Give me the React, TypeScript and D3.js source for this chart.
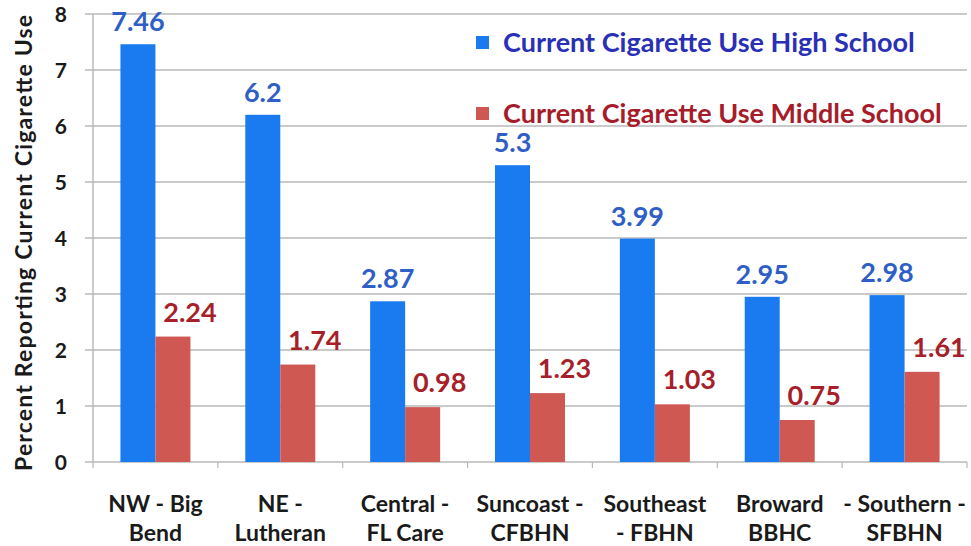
import React from "react";
import * as d3 from "d3";

const categories: string[][] = [
  ["NW - Big", "Bend"],
  ["NE -", "Lutheran"],
  ["Central -", "FL Care"],
  ["Suncoast -", "CFBHN"],
  ["Southeast", "- FBHN"],
  ["Broward", "BBHC"],
  ["- Southern -", "SFBHN"],
];
const highSchool: number[] = [7.46, 6.2, 2.87, 5.3, 3.99, 2.95, 2.98];
const middleSchool: number[] = [2.24, 1.74, 0.98, 1.23, 1.03, 0.75, 1.61];
const yTicks: number[] = [0, 1, 2, 3, 4, 5, 6, 7, 8];
const seriesNames: string[] = [
  "Current Cigarette Use High School",
  "Current Cigarette Use Middle School",
];
const yTitle = "Percent Reporting Current Cigarette Use";

const W = 971;
const H = 546;
const FONT = "Lato, 'Open Sans', sans-serif";
const BLUE = "#1a7bf1";
const RED = "#cf5852";
const BLUE_TEXT = "#2f5fc6";
const RED_TEXT = "#a61f2a";
const GRID = "#b8b8b8";

export default function App() {
  const plot = { left: 93, right: 967, top: 14, bottom: 462 };
  const x = d3
    .scaleBand<number>()
    .domain(d3.range(categories.length))
    .range([plot.left, plot.right]);
  const y = d3.scaleLinear().domain([0, 8]).range([plot.bottom, plot.top]);
  const barW = 35;
  const groupPad = (x.bandwidth() - 2 * barW) / 2;

  return (
    <svg
      width={W}
      height={H}
      style={{ position: "absolute", left: 0, top: 0, background: "#fff" }}
      fontFamily={FONT}
    >
      {/* horizontal gridlines with left tick stubs */}
      {yTicks.map((t) => (
        <line
          key={"g" + t}
          x1={plot.left - 8}
          x2={plot.right}
          y1={y(t)}
          y2={y(t)}
          stroke={GRID}
          strokeWidth={1.5}
        />
      ))}
      {/* y axis */}
      <line
        x1={plot.left}
        x2={plot.left}
        y1={plot.top}
        y2={plot.bottom}
        stroke={GRID}
        strokeWidth={1.5}
      />
      {/* category ticks */}
      {d3.range(categories.length + 1).map((i) => {
        const xx = plot.left + i * x.step();
        return (
          <line
            key={"xt" + i}
            x1={xx}
            x2={xx}
            y1={plot.bottom}
            y2={plot.bottom + 6}
            stroke={GRID}
            strokeWidth={1.2}
          />
        );
      })}
      {/* y tick labels */}
      {yTicks.map((t) => (
        <text
          key={"yl" + t}
          x={67}
          y={y(t)}
          dy="0.36em"
          textAnchor="end"
          fontSize={21}
          fontWeight="bold"
          fill="#1a1a1a"
        >
          {t}
        </text>
      ))}
      {/* y axis title */}
      <text
        transform={`translate(32,243) rotate(-90)`}
        textAnchor="middle"
        fontSize={23}
        fontWeight="bold"
        fill="#1a1a1a"
        textLength={456}
        lengthAdjust="spacing"
      >
        {yTitle}
      </text>

      {/* bars */}
      {highSchool.map((v, i) => {
        const bx = (x(i) as number) + groupPad;
        return (
          <g key={"b" + i}>
            <rect x={bx} y={y(v)} width={barW} height={y(0) - y(v)} fill={BLUE} />
            <text
              x={bx + barW / 2}
              y={y(v) - 13}
              textAnchor="middle"
              fontSize={27}
              fontWeight="bold"
              fill={BLUE_TEXT}
            >
              {v}
            </text>
          </g>
        );
      })}
      {middleSchool.map((v, i) => {
        const bx = (x(i) as number) + groupPad + barW;
        return (
          <g key={"r" + i}>
            <rect x={bx} y={y(v)} width={barW} height={y(0) - y(v)} fill={RED} />
            <text
              x={bx + barW / 2 + 17}
              y={y(v) - 15}
              textAnchor="middle"
              fontSize={27}
              fontWeight="bold"
              fill={RED_TEXT}
            >
              {v}
            </text>
          </g>
        );
      })}

      {/* category labels */}
      {categories.map((lines, i) => (
        <text
          key={"c" + i}
          x={(x(i) as number) + x.bandwidth() / 2}
          textAnchor="middle"
          fontSize={23}
          fontWeight="bold"
          fill="#1a1a1a"
        >
          {lines.map((l, j) => (
            <tspan key={j} x={(x(i) as number) + x.bandwidth() / 2} y={512 + j * 29}>
              {l}
            </tspan>
          ))}
        </text>
      ))}

      {/* legend */}
      {seriesNames.map((name, i) => (
        <g key={"lg" + i} transform={`translate(476,${36 + i * 71})`}>
          <rect width={13} height={13} fill={i === 0 ? BLUE : RED} />
          <text
            x={27}
            y={16}
            fontSize={27}
            fontWeight="bold"
            fill={i === 0 ? "#2a30b6" : "#a61c2a"}
          >
            {name}
          </text>
        </g>
      ))}
    </svg>
  );
}
